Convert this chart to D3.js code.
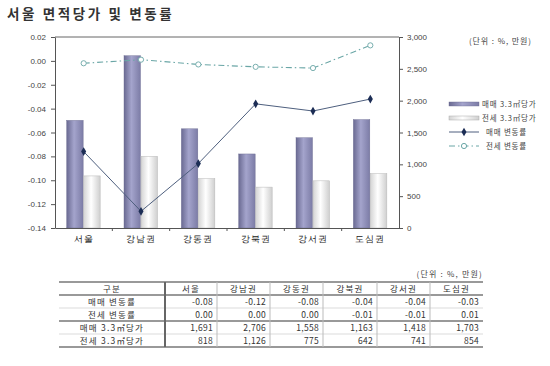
<!DOCTYPE html>
<html><head><meta charset="utf-8">
<script src="https://cdn.jsdelivr.net/npm/d3@7"></script>
<style>
body{margin:0;background:#fff;}
svg{display:block;font-family:"Noto Sans CJK KR","Noto Sans",sans-serif;}
</style></head>
<body><svg id="c" width="550" height="366"></svg>
<script>
const categories = ['서울','강남권','강동권','강북권','강서권','도심권'];
const salePrice = [1691,2706,1558,1163,1418,1703];
const jeonsePrice = [818,1126,775,642,741,854];
const saleChange = [-0.076,-0.126,-0.086,-0.036,-0.042,-0.032];
const jeonseChange = [-0.002,0.001,-0.003,-0.005,-0.006,0.013];
const leftTicks = [0.02,0.00,-0.02,-0.04,-0.06,-0.08,-0.10,-0.12,-0.14];
const rightTicks = [0,500,1000,1500,2000,2500,3000];
const legendLabels = ['매매 3.3㎡당가','전세 3.3㎡당가','매매 변동률','전세 변동률'];
const tableHeader = ['구분','서울','강남권','강동권','강북권','강서권','도심권'];
const tableRowLabels = ['매매 변동률','전세 변동률','매매 3.3㎡당가','전세 3.3㎡당가'];
const saleChangeTable = ['-0.08','-0.12','-0.08','-0.04','-0.04','-0.03'];
const jeonseChangeTable = ['0.00','0.00','0.00','-0.01','-0.01','0.01'];

const svg = d3.select('#c');
const L=55, R=399, T=37, B=228;

// title
svg.append('text').attr('x',7).attr('y',19).attr('font-size',13.5).attr('font-weight','bold')
  .attr('letter-spacing',2.6).attr('fill','#333').text('서울 면적당가 및 변동률');

const defs = svg.append('defs');
const g1 = defs.append('linearGradient').attr('id','gDark');
[['0%','#6a6a92'],['45%','#a4a4cc'],['100%','#7c7ca6']].forEach(([o,c])=>g1.append('stop').attr('offset',o).attr('stop-color',c));
const g2 = defs.append('linearGradient').attr('id','gLight');
[['0%','#d4d4d4'],['45%','#ffffff'],['100%','#cfcfcf']].forEach(([o,c])=>g2.append('stop').attr('offset',o).attr('stop-color',c));

const x = d3.scaleBand().domain(categories).range([L,R]);
const yL = d3.scaleLinear().domain([-0.14,0.02]).range([B,T]);
const yR = d3.scaleLinear().domain([0,3000]).range([B,T]);
const bw = 16.5;

// frame
svg.append('line').attr('x1',L).attr('x2',R).attr('y1',T).attr('y2',T).attr('stroke','#666');

// bars
svg.selectAll('.b1').data(salePrice).join('rect')
  .attr('x',(d,i)=>x(categories[i])+x.bandwidth()/2-bw-0.5).attr('width',bw)
  .attr('y',d=>yR(d)).attr('height',d=>B-yR(d)).attr('fill','url(#gDark)')
  .attr('stroke','#6a6a90').attr('stroke-width',0.4);
svg.selectAll('.b2').data(jeonsePrice).join('rect')
  .attr('x',(d,i)=>x(categories[i])+x.bandwidth()/2).attr('width',bw)
  .attr('y',d=>yR(d)).attr('height',d=>B-yR(d)).attr('fill','url(#gLight)')
  .attr('stroke','#b8b8b8').attr('stroke-width',0.5);

// axes
const fmtL = d=>d3.format('.2f')(d).replace('−','-');
const axL = svg.append('g').attr('transform',`translate(${L},0)`)
  .call(d3.axisLeft(yL).tickValues(leftTicks).tickFormat(fmtL).tickSize(4).tickSizeOuter(0));
const axR = svg.append('g').attr('transform',`translate(${R},0)`)
  .call(d3.axisRight(yR).tickValues(rightTicks).tickFormat(d3.format(',')).tickSize(4).tickSizeOuter(0));
const axB = svg.append('g').attr('transform',`translate(0,${B})`)
  .call(d3.axisBottom(x).tickSize(0).tickSizeOuter(0));
[axL,axR,axB].forEach(a=>{a.select('.domain').attr('stroke','#555');a.selectAll('line').attr('stroke','#555');});
axL.selectAll('text').attr('font-size',8).attr('fill','#444').attr('x',-9);
axR.selectAll('text').attr('font-size',8).attr('fill','#444').attr('x',8);
axB.selectAll('text').attr('font-size',9).attr('fill','#222').attr('dy','1.25em').attr('letter-spacing',1);
// category boundary ticks
svg.selectAll('.bt').data(categories.slice(1)).join('line')
  .attr('x1',d=>x(d)).attr('x2',d=>x(d)).attr('y1',B).attr('y2',B+3).attr('stroke','#555');

// lines
const cx = (d,i)=>x(categories[i])+x.bandwidth()/2;
svg.append('path').datum(jeonseChange)
  .attr('d',d3.line().x(cx).y(d=>yL(d)))
  .attr('fill','none').attr('stroke','#6aa6a6').attr('stroke-width',1.1).attr('stroke-dasharray','6,3,1.5,3');
svg.append('path').datum(saleChange)
  .attr('d',d3.line().x(cx).y(d=>yL(d)))
  .attr('fill','none').attr('stroke','#4e5f7e').attr('stroke-width',1);
const diamond = d3.symbol().type(d3.symbolDiamond).size(22);
svg.selectAll('.m1').data(saleChange).join('path').attr('d',diamond)
  .attr('transform',(d,i)=>`translate(${cx(d,i)},${yL(d)})`).attr('fill','#1c2d55');
svg.selectAll('.m2').data(jeonseChange).join('circle')
  .attr('cx',cx).attr('cy',d=>yL(d)).attr('r',2.6)
  .attr('fill','#fff').attr('stroke','#6aa6a6').attr('stroke-width',0.9);

// unit label
svg.append('text').attr('x',469).attr('y',44).attr('font-size',8).attr('letter-spacing',0.9)
  .attr('fill','#444').text('(단위 : %, 만원)');

// legend
const ly = [104,118,132,146];
const lg = svg.append('g');
lg.append('rect').attr('x',449).attr('y',ly[0]-2).attr('width',30).attr('height',4).attr('fill','url(#gDark)').attr('stroke','#6a6a90').attr('stroke-width',0.4);
lg.append('rect').attr('x',449).attr('y',ly[1]-2).attr('width',30).attr('height',4).attr('fill','url(#gLight)').attr('stroke','#aaa').attr('stroke-width',0.5);
lg.append('line').attr('x1',449).attr('x2',479).attr('y1',ly[2]).attr('y2',ly[2]).attr('stroke','#4e5f7e');
lg.append('path').attr('d',diamond).attr('transform',`translate(464,${ly[2]})`).attr('fill','#1c2d55');
lg.append('line').attr('x1',449).attr('x2',479).attr('y1',ly[3]).attr('y2',ly[3]).attr('stroke','#6aa6a6').attr('stroke-dasharray','6,3,1.5,3');
lg.append('circle').attr('cx',464).attr('cy',ly[3]).attr('r',2.6).attr('fill','#fff').attr('stroke','#6aa6a6');
lg.selectAll('text').data(legendLabels).join('text')
  .attr('x',(d,i)=>i<2?482:486).attr('y',(d,i)=>ly[i]+3).attr('font-size',7.5).attr('letter-spacing',0.8)
  .attr('fill','#444').text(d=>d);

// table
const colX = [59,165,217,270,323,377,430,483];
const rowY = [282,295,308,321,334,347];
const tg = svg.append('g');
tg.append('text').attr('x',483).attr('y',277).attr('text-anchor','end').attr('font-size',8).attr('letter-spacing',1.2)
  .attr('fill','#444').text('(단위 : %, 만원)');
rowY.forEach((y,i)=>{
  const thick = (i===0||i===1||i===3||i===5);
  tg.append('line').attr('x1',colX[0]).attr('x2',colX[7]).attr('y1',y).attr('y2',y)
    .attr('stroke',thick?'#777':'#ccc').attr('stroke-width',thick?1.3:0.7);
});
colX.slice(1,7).forEach((xx,i)=>{
  tg.append('line').attr('x1',xx).attr('x2',xx).attr('y1',rowY[0]).attr('y2',rowY[5])
    .attr('stroke',i===0?'#666':'#bbb').attr('stroke-width',i===0?2:1);
});
const mid = i=>(rowY[i]+rowY[i+1])/2+3;
tableHeader.forEach((h,j)=>{
  tg.append('text').attr('x',(colX[j]+colX[j+1])/2).attr('y',mid(0)).attr('text-anchor','middle')
    .attr('font-size',8.5).attr('letter-spacing',1.2).attr('fill','#333').text(h);
});
const rows = [saleChangeTable, jeonseChangeTable, salePrice.map(d3.format(',')), jeonsePrice.map(d3.format(','))];
rows.forEach((r,i)=>{
  tg.append('text').attr('x',(colX[0]+colX[1])/2).attr('y',mid(i+1)).attr('text-anchor','middle')
    .attr('font-size',8.5).attr('letter-spacing',1.2).attr('fill','#333').text(tableRowLabels[i]);
  r.forEach((v,j)=>{
    tg.append('text').attr('x',colX[j+2]-4).attr('y',mid(i+1)).attr('text-anchor','end')
      .attr('font-size',8.5).attr('letter-spacing',0.3).attr('fill','#333').text(v);
  });
});
</script></body></html>
